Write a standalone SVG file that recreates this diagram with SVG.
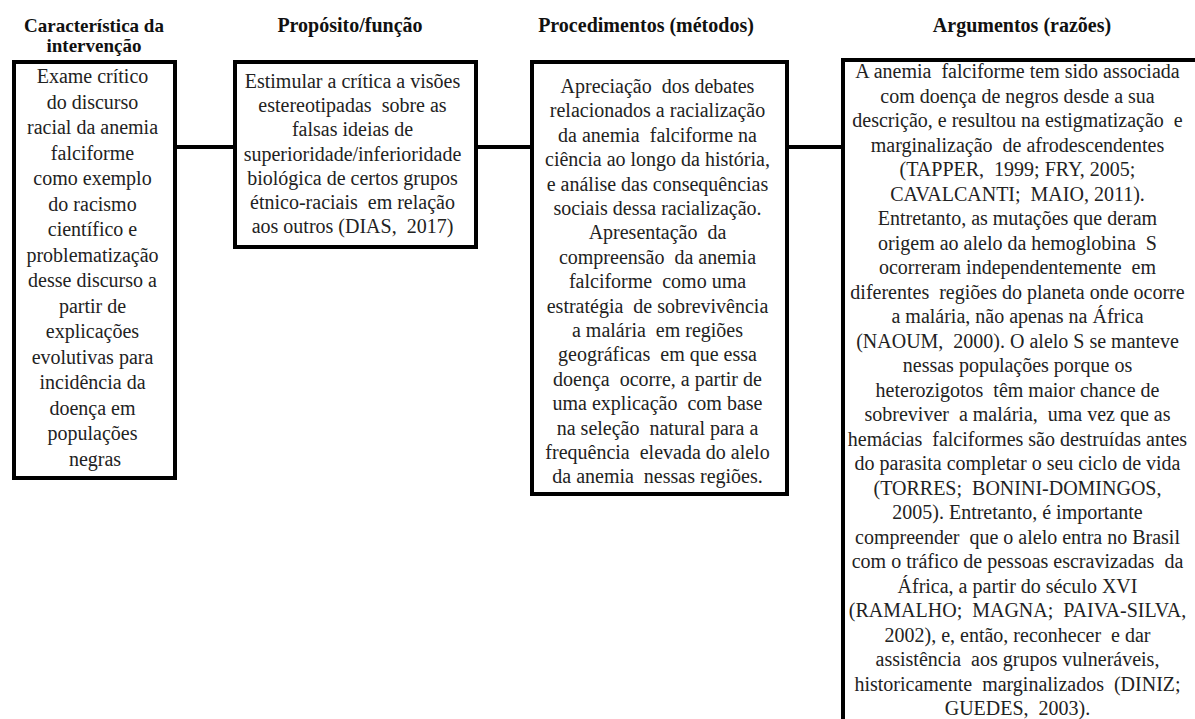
<svg xmlns="http://www.w3.org/2000/svg" width="1195" height="719" viewBox="0 0 1195 719">
<style>
.hd{font-family:'Liberation Serif','Times New Roman',serif;font-weight:bold;font-size:20px;fill:#111;text-anchor:middle}
.tx{font-family:'Liberation Serif','Times New Roman',serif;font-size:20px;fill:#222;text-anchor:middle}
.box{fill:#fff;stroke:#000;stroke-width:4}
.con{stroke:#000;stroke-width:4;fill:none}
</style>
<rect width="1195" height="719" fill="#fff"/>
<g id="headers">
<text class="hd" x="94" y="32" style="font-size:19px">Característica da</text>
<text class="hd" x="94" y="52" style="font-size:19px">intervenção</text>
<text class="hd" x="350" y="32">Propósito/função</text>
<text class="hd" x="646" y="32">Procedimentos (métodos)</text>
<text class="hd" x="1022" y="32">Argumentos (razões)</text>
</g>
<g id="connectors">
<line class="con" x1="176" y1="147" x2="233" y2="147"/>
<line class="con" x1="477" y1="147" x2="531" y2="147"/>
<line class="con" x1="788" y1="147" x2="842" y2="147"/>
</g>
<g id="node1">
<rect class="box" x="14" y="62" width="161" height="416"/>
<text class="tx">
<tspan x="95" y="83">Exame crítico</tspan>
<tspan x="95" dy="25.5">do discurso</tspan>
<tspan x="95" dy="25.5">racial da anemia</tspan>
<tspan x="95" dy="25.5">falciforme</tspan>
<tspan x="95" dy="25.5">como exemplo</tspan>
<tspan x="95" dy="25.5">do racismo</tspan>
<tspan x="95" dy="25.5">científico e</tspan>
<tspan x="95" dy="25.5">problematização</tspan>
<tspan x="95" dy="25.5">desse discurso a</tspan>
<tspan x="95" dy="25.5">partir de</tspan>
<tspan x="95" dy="25.5">explicações</tspan>
<tspan x="95" dy="25.5">evolutivas para</tspan>
<tspan x="95" dy="25.5">incidência da</tspan>
<tspan x="95" dy="25.5">doença em</tspan>
<tspan x="95" dy="25.5">populações</tspan>
<tspan x="95" dy="25.5">negras</tspan>
</text>
</g>
<g id="node2">
<rect class="box" x="235" y="62" width="241" height="185"/>
<text class="tx" xml:space="preserve">
<tspan x="355" y="88">Estimular a crítica a visões</tspan>
<tspan x="355" dy="24.2">estereotipadas  sobre as</tspan>
<tspan x="355" dy="24.2">falsas ideias de</tspan>
<tspan x="355" dy="24.2">superioridade/inferioridade</tspan>
<tspan x="355" dy="24.2">biológica de certos grupos</tspan>
<tspan x="355" dy="24.2">étnico-raciais  em relação</tspan>
<tspan x="355" dy="24.2">aos outros (DIAS,  2017)</tspan>
</text>
</g>
<g id="node3">
<rect class="box" x="532" y="62" width="255" height="432"/>
<text class="tx" xml:space="preserve">
<tspan x="660" y="93">Apreciação  dos debates</tspan>
<tspan x="660" dy="24.4">relacionados a racialização</tspan>
<tspan x="660" dy="24.4">da anemia  falciforme na</tspan>
<tspan x="660" dy="24.4">ciência ao longo da história,</tspan>
<tspan x="660" dy="24.4">e análise das consequências</tspan>
<tspan x="660" dy="24.4">sociais dessa racialização.</tspan>
<tspan x="660" dy="24.4">Apresentação  da</tspan>
<tspan x="660" dy="24.4">compreensão  da anemia</tspan>
<tspan x="660" dy="24.4">falciforme  como uma</tspan>
<tspan x="660" dy="24.4">estratégia  de sobrevivência</tspan>
<tspan x="660" dy="24.4">a malária  em regiões</tspan>
<tspan x="660" dy="24.4">geográficas  em que essa</tspan>
<tspan x="660" dy="24.4">doença  ocorre, a partir de</tspan>
<tspan x="660" dy="24.4">uma explicação  com base</tspan>
<tspan x="660" dy="24.4">na seleção  natural para a</tspan>
<tspan x="660" dy="24.4">frequência  elevada do alelo</tspan>
<tspan x="660" dy="24.4">da anemia  nessas regiões.</tspan>
</text>
</g>
<g id="node4">
<rect class="box" x="843" y="60" width="360" height="680"/>
<text class="tx" xml:space="preserve">
<tspan x="1020" y="78">A anemia  falciforme tem sido associada</tspan>
<tspan x="1020" dy="24.5">com doença de negros desde a sua</tspan>
<tspan x="1020" dy="24.5">descrição, e resultou na estigmatização  e</tspan>
<tspan x="1020" dy="24.5">marginalização  de afrodescendentes</tspan>
<tspan x="1020" dy="24.5">(TAPPER,  1999; FRY, 2005;</tspan>
<tspan x="1020" dy="24.5">CAVALCANTI;  MAIO, 2011).</tspan>
<tspan x="1020" dy="24.5">Entretanto, as mutações que deram</tspan>
<tspan x="1020" dy="24.5">origem ao alelo da hemoglobina  S</tspan>
<tspan x="1020" dy="24.5">ocorreram independentemente  em</tspan>
<tspan x="1020" dy="24.5">diferentes  regiões do planeta onde ocorre</tspan>
<tspan x="1020" dy="24.5">a malária, não apenas na África</tspan>
<tspan x="1020" dy="24.5">(NAOUM,  2000). O alelo S se manteve</tspan>
<tspan x="1020" dy="24.5">nessas populações porque os</tspan>
<tspan x="1020" dy="24.5">heterozigotos  têm maior chance de</tspan>
<tspan x="1020" dy="24.5">sobreviver  a malária,  uma vez que as</tspan>
<tspan x="1020" dy="24.5">hemácias  falciformes são destruídas antes</tspan>
<tspan x="1020" dy="24.5">do parasita completar o seu ciclo de vida</tspan>
<tspan x="1020" dy="24.5">(TORRES;  BONINI-DOMINGOS,</tspan>
<tspan x="1020" dy="24.5">2005). Entretanto, é importante</tspan>
<tspan x="1020" dy="24.5">compreender  que o alelo entra no Brasil</tspan>
<tspan x="1020" dy="24.5">com o tráfico de pessoas escravizadas  da</tspan>
<tspan x="1020" dy="24.5">África, a partir do século XVI</tspan>
<tspan x="1020" dy="24.5">(RAMALHO;  MAGNA;  PAIVA-SILVA,</tspan>
<tspan x="1020" dy="24.5">2002), e, então, reconhecer  e dar</tspan>
<tspan x="1020" dy="24.5">assistência  aos grupos vulneráveis,</tspan>
<tspan x="1020" dy="24.5">historicamente  marginalizados  (DINIZ;</tspan>
<tspan x="1020" dy="24.5">GUEDES,  2003).</tspan>
</text>
</g>
</svg>
